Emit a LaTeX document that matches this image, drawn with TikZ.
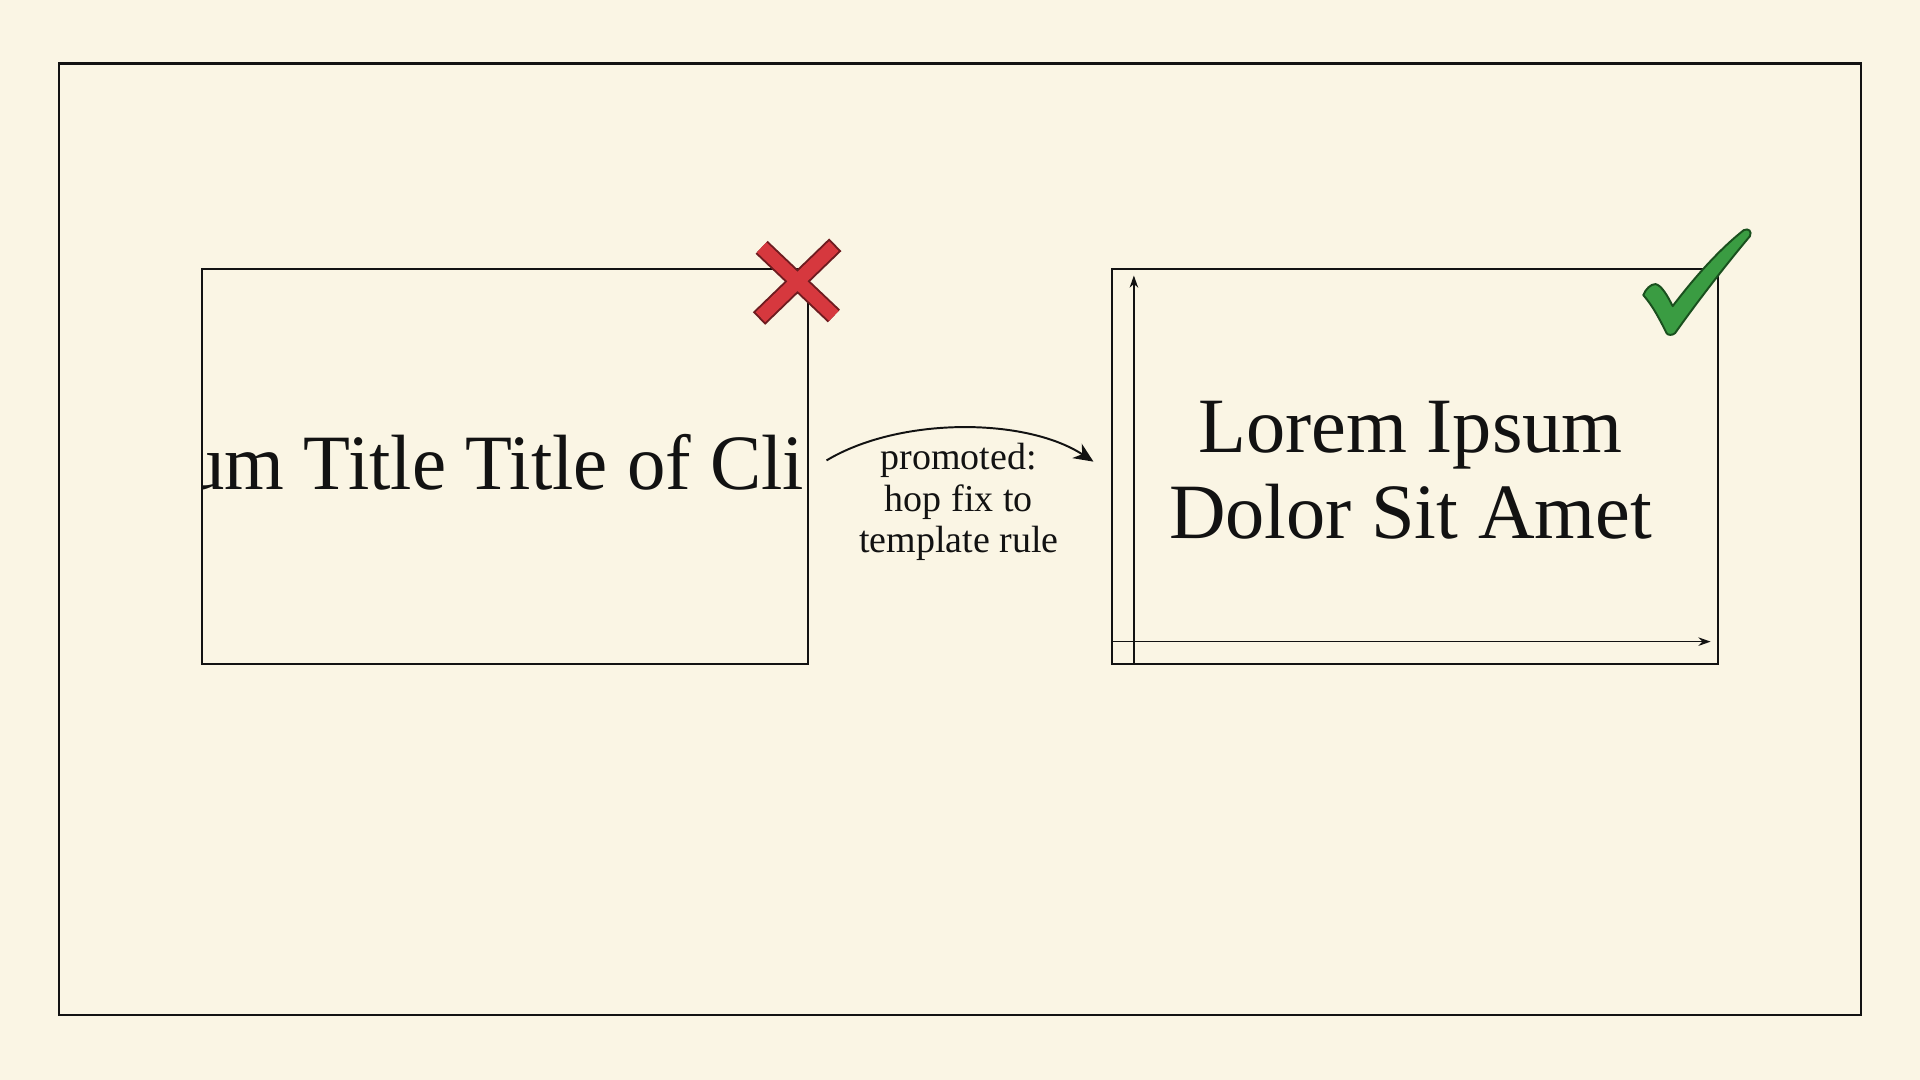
\documentclass[tikz,border=0pt]{standalone}
\usepackage{fontspec}
\setmainfont{Liberation Serif}
\newfontfamily\narrowserif[FakeStretch=0.98]{Liberation Serif}
\usetikzlibrary{arrows.meta,calc}
\definecolor{bg}{RGB}{250,245,228}
\definecolor{ink}{RGB}{18,18,18}
\definecolor{xred}{RGB}{214,56,62}
\definecolor{xdark}{RGB}{110,28,32}
\definecolor{cgreen}{RGB}{58,156,66}
\definecolor{cdark}{RGB}{26,80,30}
\tikzset{
  panel/.style={draw=ink, line width=0.75pt, minimum width=247.5pt, minimum height=161pt, inner sep=0pt, outer sep=0pt},
  bigtext/.style={font=\fontsize{32}{35}\selectfont, text=ink, align=center, inner sep=0pt},
  lbl/.style={font=\fontsize{15.5}{17}\selectfont, text=ink, align=center, inner sep=0pt},
  axisarrow/.style={draw=ink, line width=0.6pt, -{Stealth[length=5pt,width=3.5pt]}},
  promo/.style={draw=ink, line width=0.8pt, -{Stealth[length=8pt,width=7pt,inset=2.5pt]}}
}
\begin{document}
\begin{tikzpicture}[x=0.5pt,y=-0.5pt]
\fill[bg] (0,0) rectangle (1568,882);
\useasboundingbox (0,0) rectangle (1568,882);
% outer frame
\node[draw=ink, line width=1pt, minimum width=736pt, minimum height=388.5pt, inner sep=0pt] (frame) at (784,440.5) {};
% left (bad) panel text, clipped
\begin{scope}
\clip (165,220) rectangle (660,542);
\node[font=\narrowserif\fontsize{32}{35}\selectfont, text=ink, inner sep=0pt, anchor=base east] (lefttext) at (657,400) {um Title Title of Cli};
\end{scope}
\node[panel] (L) at (412.5,381) {};
% right (good) panel
\node[panel] (R) at (1155.5,381) {};
\node[bigtext] (righttext) at (1152,384) {Lorem Ipsum\\Dolor Sit Amet};
\draw[axisarrow] ($(R.south west)+(18,0)$) -- ($(R.north west)+(18,5)$);
\draw[axisarrow] ($(R.south west)+(0,-18)$) -- ($(R.south east)+(-6,-18)$);
% promotion arrow
\draw[promo] ($(L.east)+(15,-5)$) .. controls +(60,-36) and +(-55,-36) .. ($(R.west)+(-15,-4)$);
\node[lbl] (label) at (783,410) {promoted:\\hop fix to\\template rule};
% red cross
\draw[line width=7.2pt, xdark, shorten <=-0.8pt, shorten >=-0.8pt] (622,202) -- (681,258) (681,201) -- (621,259);
\draw[line width=5.6pt, xred] (622,202) -- (681,258) (681,201) -- (621,259);
% green check
\filldraw[fill=cgreen, draw=cdark, line width=0.8pt, line join=round]
  (1342,241) .. controls (1344,236) and (1348,232) .. (1352,232)
  .. controls (1357,233) and (1362,242) .. (1366,250)
  .. controls (1385,225) and (1405,203) .. (1424,188)
  .. controls (1428,186) and (1431,189) .. (1429,193)
  .. controls (1408,218) and (1385,248) .. (1368,272)
  .. controls (1366,274) and (1362,274) .. (1361,272)
  .. controls (1356,262) and (1350,250) .. cycle;
\end{tikzpicture}
\end{document}
